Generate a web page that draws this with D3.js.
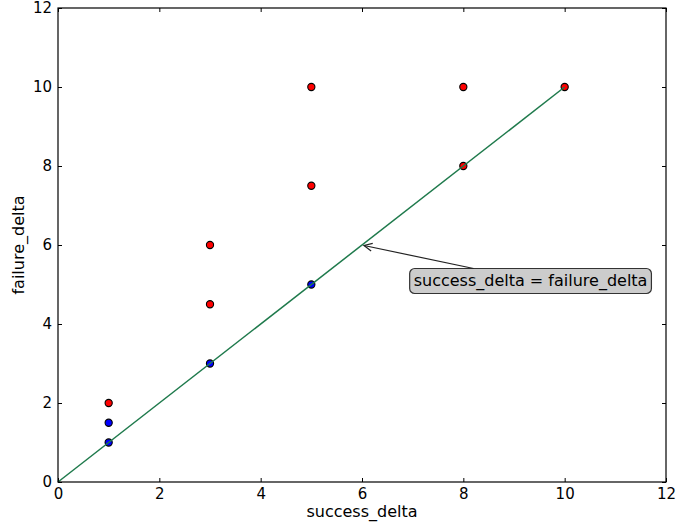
<!DOCTYPE html>
<html>
<head>
<meta charset="utf-8">
<script src="https://cdn.jsdelivr.net/npm/d3@7"></script>
<style>
  body { margin: 0; background: #fff; }
  text { font-family: "DejaVu Sans", sans-serif; }
</style>
</head>
<body>
<svg id="chart" width="676" height="527"></svg>
<script>

// data
var redX = [1, 3, 3, 5, 5, 8, 8, 10];
var redY = [2, 6, 4.5, 10, 7.5, 10, 8, 10];
var blueX = [1, 1, 3, 5];
var blueY = [1.5, 1, 3, 5];
var lineX = [0, 10];
var lineY = [0, 10];
var ticks = [0, 2, 4, 6, 8, 10, 12];
var annoText = "success_delta = failure_delta";
var annoPoint = [6, 6];
var annoTextPos = [7, 5];

var svg = d3.select("#chart");
var pLeft = 58, pRight = 666, pTop = 8, pBottom = 482;

var x = d3.scaleLinear().domain([0, 12]).range([pLeft, pRight]);
var y = d3.scaleLinear().domain([0, 12]).range([pBottom, pTop]);

// tick marks point inward, on all four sides (classic style)
function tickAxis(axis, tx, ty, labels) {
	var g = svg.append("g").attr("transform", "translate(" + tx + "," + ty + ")")
		.call(axis.tickValues(ticks).tickSizeInner(-4).tickSizeOuter(0).tickPadding(6)
			.tickFormat(labels ? d3.format("d") : ""));
	g.select(".domain").remove();
	g.selectAll(".tick line").attr("stroke", "#000");
	g.selectAll(".tick text").attr("font-size", "15px").attr("fill", "#000")
		.style("font-family", "DejaVu Sans, sans-serif");
	return g;
}
tickAxis(d3.axisBottom(x), 0, pBottom, true);
tickAxis(d3.axisTop(x), 0, pTop, false);
tickAxis(d3.axisLeft(y), pLeft, 0, true);
tickAxis(d3.axisRight(y), pRight, 0, false);

function dots(xs, ys, color) {
	svg.append("g").selectAll("circle")
		.data(xs.map(function(d, i) { return [d, ys[i]]; }))
		.enter().append("circle")
		.attr("cx", function(d) { return x(d[0]); })
		.attr("cy", function(d) { return y(d[1]); })
		.attr("r", 3.6)
		.attr("fill", color)
		.attr("stroke", "#000")
		.attr("stroke-width", 1.1);
}
dots(redX, redY, "#ff0000");
dots(blueX, blueY, "#0000ff");

svg.append("path")
	.datum(lineX.map(function(d, i) { return [d, lineY[i]]; }))
	.attr("d", d3.line().x(function(d) { return x(d[0]); }).y(function(d) { return y(d[1]); }))
	.attr("fill", "none")
	.attr("stroke", "#1f7a4c")
	.attr("stroke-width", 1.5);

// frame
svg.append("rect")
	.attr("x", pLeft).attr("y", pTop)
	.attr("width", pRight - pLeft).attr("height", pBottom - pTop)
	.attr("fill", "none").attr("stroke", "#000").attr("stroke-width", 1.2);

// annotation
var label = svg.append("text")
	.attr("x", x(annoTextPos[0]) + 1)
	.attr("y", y(annoTextPos[1]) + 1)
	.attr("font-size", "16px")
	.attr("fill", "#000")
	.text(annoText);
var bb = label.node().getBBox();
var pad = 4;
var boxTop = bb.y - pad + 2;
svg.append("rect")
	.attr("x", bb.x - pad).attr("y", boxTop)
	.attr("width", bb.width + 2 * pad).attr("height", bb.height + 2 * pad - 3)
	.attr("rx", 5).attr("ry", 5)
	.attr("fill", "#cccccc").attr("stroke", "#333").attr("stroke-width", 1.2);
label.raise();

var cx = bb.x + bb.width / 2, cy = bb.y + bb.height / 2;
var px = x(annoPoint[0]), py = y(annoPoint[1]);
var sx = cx + (px - cx) * (boxTop - cy) / (py - cy);
var ex = px + 2, ey = py + 0.5;
svg.append("line")
	.attr("x1", sx).attr("y1", boxTop).attr("x2", ex).attr("y2", ey)
	.attr("stroke", "#222").attr("stroke-width", 1.2);
var a = Math.atan2(boxTop - ey, sx - ex);
var hl = 9, hw = 0.45;
svg.append("path")
	.attr("d", "M" + (ex + hl * Math.cos(a + hw)) + "," + (ey + hl * Math.sin(a + hw)) +
		"L" + ex + "," + ey +
		"L" + (ex + hl * Math.cos(a - hw)) + "," + (ey + hl * Math.sin(a - hw)))
	.attr("fill", "none").attr("stroke", "#222").attr("stroke-width", 1.2);

// axis titles
svg.append("text")
	.attr("x", (pLeft + pRight) / 2).attr("y", 517)
	.attr("text-anchor", "middle").attr("font-size", "16px")
	.text("success_delta");
svg.append("text")
	.attr("transform", "translate(24," + (pTop + pBottom) / 2 + ") rotate(-90)")
	.attr("text-anchor", "middle").attr("font-size", "16px")
	.text("failure_delta");
</script>
</body>
</html>
